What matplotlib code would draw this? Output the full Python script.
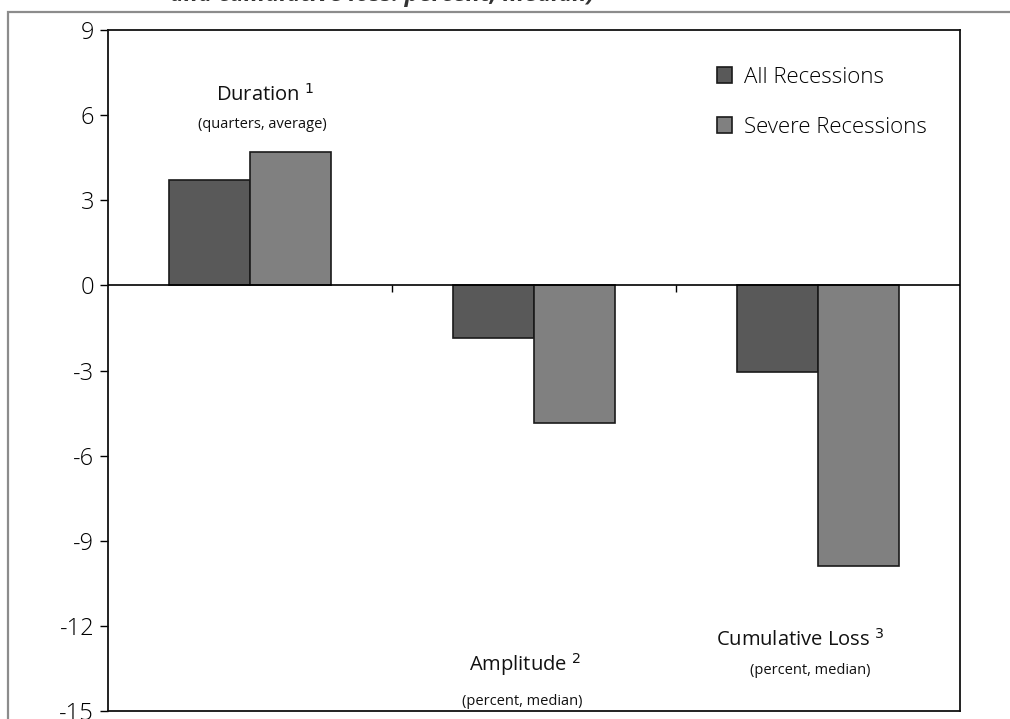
import numpy as np
import matplotlib
matplotlib.use('Agg')
import matplotlib.pyplot as plt
from matplotlib.patches import Rectangle, Patch

plt.rcParams['font.family'] = ['Open Sans', 'DejaVu Sans']

# data
categories = ['Duration', 'Amplitude', 'Cumulative Loss']
footnotes = ['1', '2', '3']
units = ['(quarters, average)', '(percent, median)', '(percent, median)']
all_recessions = [3.7, -1.85, -3.05]
severe_recessions = [4.7, -4.85, -9.9]
series_names = ['All Recessions', 'Severe Recessions']
yticks = [9, 6, 3, 0, -3, -6, -9, -12, -15]

dark = '#595959'
light = '#808080'

fig = plt.figure(figsize=(10.10, 7.19), dpi=100)
ax = fig.add_axes([108/1010, 1 - 711/719, 852/1010, 681/719])

x = np.arange(len(categories))
w = 0.285
ax.bar(x - w/2, all_recessions, w, color=dark, edgecolor='#1a1a1a', linewidth=1.2, zorder=2)
ax.bar(x + w/2, severe_recessions, w, color=light, edgecolor='#1a1a1a', linewidth=1.2, zorder=2)

ax.axhline(0, color='black', linewidth=1.2, zorder=3)
# small category separator ticks on the zero line
ax.vlines(x[:-1] + 0.5, -0.22, 0, color='black', linewidth=1)

ax.set_xlim(-0.5, len(categories) - 0.5)
ax.set_ylim(-15, 9)
ax.set_yticks(yticks)
ax.set_yticklabels([str(t) for t in yticks])
ax.set_xticks([])
ax.tick_params(axis='y', direction='out', length=6, width=1, labelsize=17, pad=4)
for lab in ax.get_yticklabels():
    lab.set_fontweight('light')
for s in ax.spines.values():
    s.set_linewidth(1.3)
    s.set_color('#111111')

# category labels: (x offset, title y, units x offset, units y)
label_pos = [(0.053, 6.7, 0.042, 5.68),
             (-0.032, -13.38, -0.042, -14.68),
             (-0.063, -12.5, -0.028, -13.56)]
for i, (dx, yy, ux, uy) in enumerate(label_pos):
    ax.text(x[i] + dx, yy, categories[i] + ' ' + r'$^{' + footnotes[i] + '}$',
            ha='center', va='center', fontsize=14.5, color='#111111')
    ax.text(x[i] + ux, uy, units[i],
            ha='center', va='center', fontsize=10.5, color='#111111')

handles = [Patch(facecolor=dark, edgecolor='#1a1a1a', linewidth=1.2),
           Patch(facecolor=light, edgecolor='#1a1a1a', linewidth=1.2)]
leg = ax.legend(handles, series_names, loc='upper right', frameon=False,
                fontsize=16, handlelength=0.7, handleheight=0.7,
                handletextpad=0.55, labelspacing=1.3,
                bbox_to_anchor=(0.985, 0.975))
for t in leg.get_texts():
    t.set_fontweight('light')

# outer frame of the figure panel
fig.patches.append(Rectangle((8/1010, -0.1), 1.2, 1 - 12/719 + 0.1,
                             transform=fig.transFigure, fill=False,
                             edgecolor='#8c8c8c', linewidth=1.6))

# cut-off subtitle at top
fig.text(170/1010, 1 - 1/719, 'and cumulative loss: percent; median)',
         fontsize=17, style='italic', weight='bold', color='#333333',
         ha='left', va='baseline')

fig.savefig('out.png', dpi=100)
